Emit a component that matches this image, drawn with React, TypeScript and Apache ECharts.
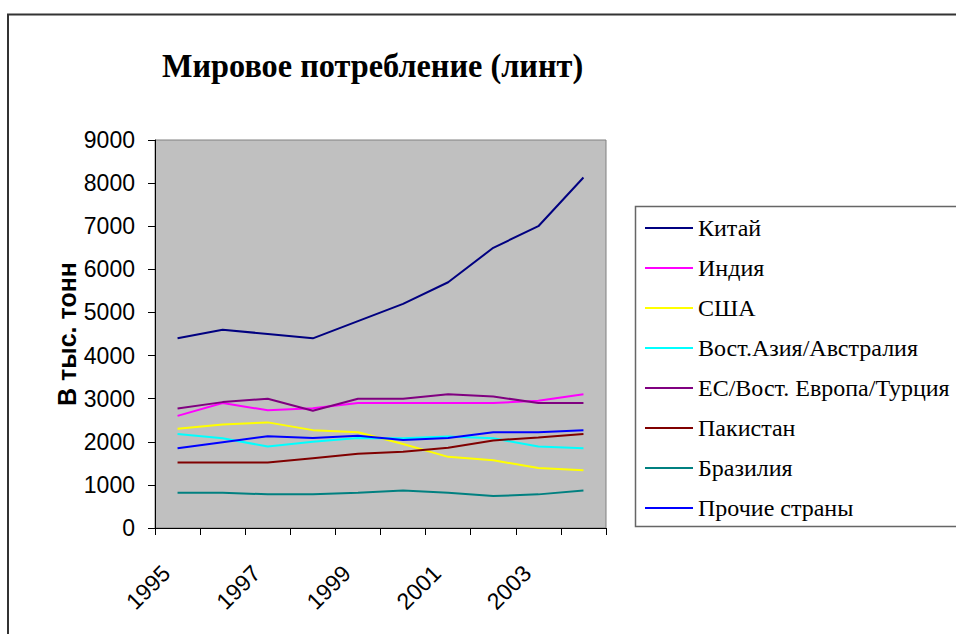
import React, { useEffect, useRef } from "react";
import * as echarts from "echarts";

const years = ["1995", "1996", "1997", "1998", "1999", "2000", "2001", "2002", "2003", "2004"];
const yTicks = [0, 1000, 2000, 3000, 4000, 5000, 6000, 7000, 8000, 9000];

const seriesNames = [
  "Китай",
  "Индия",
  "США",
  "Вост.Азия/Австралия",
  "ЕС/Вост. Европа/Турция",
  "Пакистан",
  "Бразилия",
  "Прочие страны",
];

const china = [4400, 4600, 4500, 4400, 4800, 5200, 5700, 6500, 7000, 8130];
const india = [2600, 2900, 2730, 2780, 2900, 2900, 2900, 2900, 2950, 3100];
const usa = [2300, 2400, 2450, 2270, 2220, 1950, 1650, 1570, 1390, 1340];
const eastAsia = [2180, 2080, 1890, 2000, 2090, 2080, 2120, 2080, 1890, 1850];
const euTurkey = [2770, 2920, 3000, 2720, 3000, 3000, 3100, 3050, 2900, 2900];
const pakistan = [1520, 1520, 1520, 1620, 1720, 1770, 1860, 2030, 2100, 2180];
const brazil = [820, 820, 780, 780, 820, 870, 820, 740, 780, 870];
const others = [1850, 1990, 2130, 2090, 2140, 2040, 2090, 2220, 2220, 2270];

const seriesData = [china, india, usa, eastAsia, euTurkey, pakistan, brazil, others];
const seriesColors = ["#000080", "#FF00FF", "#FFFF00", "#00FFFF", "#800080", "#800000", "#008080", "#0000FF"];

export default function App() {
  const ref = useRef<HTMLDivElement>(null);

  useEffect(() => {
    if (!ref.current) return;
    const chart = echarts.init(ref.current, undefined, { renderer: "svg" });
    chart.setOption({
      animation: false,
      backgroundColor: "#ffffff",
      graphic: [
        {
          type: "rect",
          shape: { x: 8, y: 14.5, width: 1000, height: 700 },
          style: { fill: "none", stroke: "#333333", lineWidth: 2 },
          silent: true,
          z: 100,
        },
        {
          type: "rect",
          shape: { x: 635.5, y: 206.5, width: 400, height: 320 },
          style: { fill: "none", stroke: "#666666", lineWidth: 1.5 },
          silent: true,
          z: 100,
        },
        {
          type: "text",
          x: 162,
          y: 65,
          scaleX: 0.95,
          style: {
            text: "Мировое потребление (линт)",
            font: 'bold 34px "Liberation Serif"',
            fill: "#000000",
            textAlign: "left",
            textVerticalAlign: "middle",
          },
          z: 100,
        },
      ],
      legend: {
        orient: "vertical",
        left: 645,
        top: 216,
        padding: 0,
        icon: "rect",
        itemWidth: 48,
        itemHeight: 2,
        itemGap: 16,
        data: seriesNames,
        textStyle: {
          fontFamily: "Liberation Serif",
          fontSize: 24,
          lineHeight: 24,
          color: "#000000",
        },
      },
      grid: {
        left: 155,
        top: 140,
        width: 451,
        height: 388,
        show: true,
        backgroundColor: "#C0C0C0",
        borderColor: "#808080",
        borderWidth: 1,
      },
      xAxis: {
        type: "category",
        data: years,
        boundaryGap: true,
        axisLine: { show: true, lineStyle: { color: "#000000", width: 1 } },
        axisTick: { show: true, interval: 0, length: 7, lineStyle: { color: "#000000" } },
        axisLabel: {
          interval: 1,
          rotate: 45,
          fontFamily: "Liberation Sans",
          fontSize: 23,
          color: "#000000",
          margin: 30,
          padding: [0, 16, 0, 0],
        },
        splitLine: { show: false },
      },
      yAxis: {
        type: "value",
        min: yTicks[0],
        max: yTicks[yTicks.length - 1],
        interval: 1000,
        name: "В тыс. тонн",
        nameLocation: "middle",
        nameGap: 66,
        nameTextStyle: {
          fontFamily: "Liberation Sans",
          fontWeight: "bold",
          fontSize: 25,
          color: "#000000",
        },
        axisLine: { show: true, lineStyle: { color: "#000000", width: 1 } },
        axisTick: { show: true, length: 7, lineStyle: { color: "#000000" } },
        axisLabel: {
          fontFamily: "Liberation Sans",
          fontSize: 23,
          color: "#000000",
          margin: 20,
          formatter: (v: number) => String(v),
        },
        splitLine: { show: false },
      },
      series: seriesNames.map((name, i) => ({
        name,
        type: "line",
        data: seriesData[i],
        symbol: "none",
        color: seriesColors[i],
        lineStyle: { color: seriesColors[i], width: 2 },
      })),
    });
    return () => chart.dispose();
  }, []);

  return (
    <div
      ref={ref}
      style={{ position: "fixed", left: 0, top: 0, width: 956, height: 634 }}
    />
  );
}
